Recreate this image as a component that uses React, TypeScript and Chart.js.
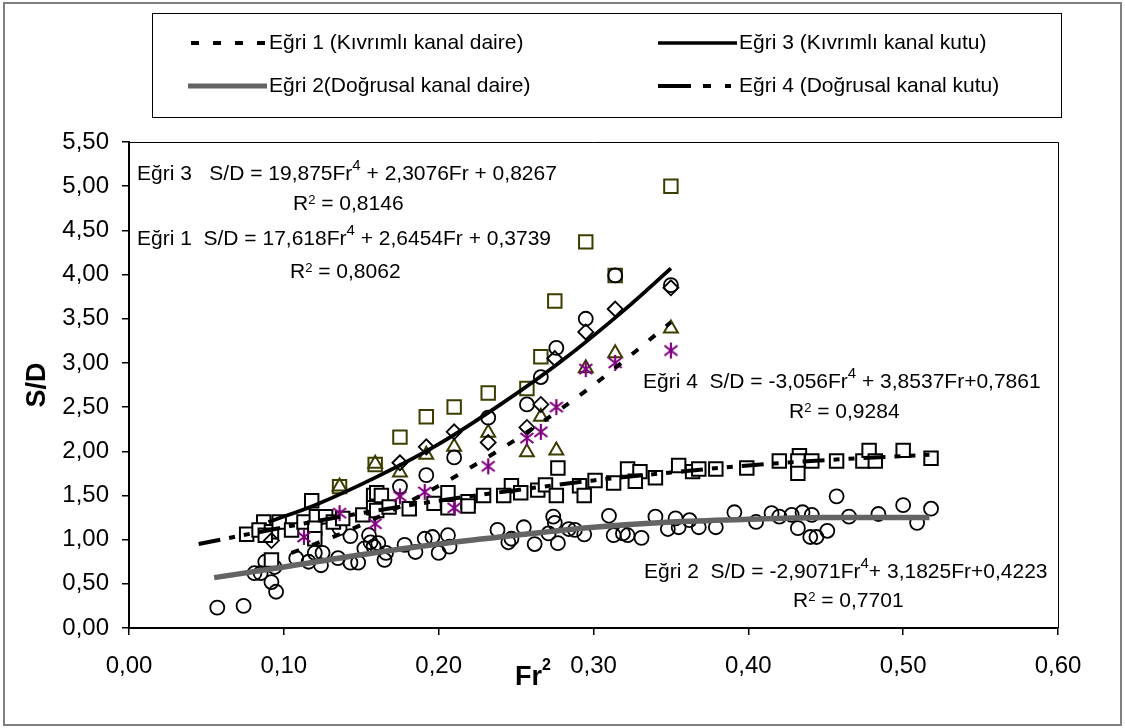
import React, { useEffect, useRef } from 'react';
import { Chart, registerables } from 'chart.js';
Chart.register(...registerables);

type P = [number, number];
const FONT = '"Liberation Sans", Arial, Helvetica, sans-serif';

// ---- tick labels ----
const xTickValues = [0, 0.1, 0.2, 0.3, 0.4, 0.5, 0.6];
const xTickLabels = ['0,00', '0,10', '0,20', '0,30', '0,40', '0,50', '0,60'];
const yTickValues = [0, 0.5, 1, 1.5, 2, 2.5, 3, 3.5, 4, 4.5, 5, 5.5];
const yTickLabels = ['0,00', '0,50', '1,00', '1,50', '2,00', '2,50', '3,00', '3,50', '4,00', '4,50', '5,00', '5,50'];

// ---- legend / series names ----
const curveNames = [
  'Eğri 1 (Kıvrımlı kanal daire)',
  'Eğri 3 (Kıvrımlı kanal kutu)',
  'Eğri 2(Doğrusal kanal daire)',
  'Eğri 4 (Doğrusal kanal kutu)',
];

// ---- measured data (Fr², S/D) ----
const linearCircles: P[] = [
  [0.057, 0.23], [0.074, 0.25], [0.095, 0.41], [0.092, 0.52], [0.081, 0.62], [0.085, 0.62],
  [0.088, 0.75], [0.094, 0.69], [0.108, 0.79], [0.116, 0.75], [0.120, 0.85], [0.125, 0.85],
  [0.124, 0.71], [0.135, 0.79], [0.136, 1.13], [0.143, 1.04], [0.143, 0.74], [0.148, 0.74],
  [0.155, 1.05], [0.152, 0.90], [0.156, 0.97], [0.158, 0.92], [0.161, 0.96], [0.166, 0.85],
  [0.165, 0.77], [0.178, 0.94], [0.185, 0.86], [0.191, 1.01], [0.196, 1.03], [0.200, 0.85],
  [0.206, 1.05], [0.207, 0.92], [0.238, 1.11], [0.245, 0.97], [0.247, 1.01], [0.255, 1.14],
  [0.262, 0.95], [0.274, 1.26], [0.275, 1.19], [0.271, 1.07], [0.277, 0.96], [0.284, 1.12],
  [0.288, 1.11], [0.294, 1.06], [0.310, 1.27], [0.313, 1.05], [0.319, 1.07], [0.322, 1.05],
  [0.331, 1.02], [0.340, 1.26], [0.348, 1.12], [0.353, 1.24], [0.355, 1.14], [0.362, 1.22],
  [0.368, 1.14], [0.379, 1.14], [0.391, 1.31], [0.405, 1.20], [0.415, 1.30], [0.420, 1.26],
  [0.428, 1.28], [0.435, 1.31], [0.432, 1.13], [0.441, 1.28], [0.440, 1.03], [0.444, 1.03],
  [0.451, 1.10], [0.457, 1.49], [0.465, 1.26], [0.484, 1.29], [0.500, 1.39], [0.509, 1.19],
  [0.518, 1.35],
];

const linearSquares: P[] = [
  [0.076, 1.06], [0.087, 1.20], [0.084, 1.11], [0.092, 1.09], [0.088, 1.05], [0.097, 1.20],
  [0.105, 1.11], [0.118, 1.44], [0.113, 1.20], [0.121, 1.26], [0.127, 1.26], [0.120, 1.13],
  [0.120, 1.01], [0.132, 1.20], [0.138, 1.24], [0.151, 1.28], [0.158, 1.50], [0.158, 1.36],
  [0.092, 0.77], [0.160, 1.53], [0.163, 1.50], [0.160, 1.33], [0.168, 1.37], [0.181, 1.35],
  [0.197, 1.41], [0.206, 1.53], [0.206, 1.36], [0.219, 1.43], [0.219, 1.38], [0.229, 1.50],
  [0.247, 1.61], [0.242, 1.50], [0.253, 1.53], [0.264, 1.56], [0.269, 1.62], [0.276, 1.50],
  [0.277, 1.81], [0.291, 1.61], [0.294, 1.50], [0.301, 1.67], [0.313, 1.64], [0.322, 1.80],
  [0.330, 1.77], [0.327, 1.66], [0.340, 1.70], [0.355, 1.84], [0.364, 1.77], [0.368, 1.80],
  [0.379, 1.80], [0.399, 1.81], [0.420, 1.89], [0.433, 1.95], [0.432, 1.89], [0.432, 1.75],
  [0.441, 1.89], [0.457, 1.89], [0.474, 1.89], [0.478, 2.01], [0.482, 1.89], [0.500, 2.01],
  [0.518, 1.92],
];

const curvedOliveSquares: P[] = [
  [0.136, 1.60], [0.159, 1.85], [0.175, 2.16], [0.192, 2.39], [0.210, 2.50], [0.232, 2.66],
  [0.257, 2.71], [0.266, 3.07], [0.275, 3.70], [0.295, 4.37], [0.314, 3.99], [0.350, 5.00],
];
const curvedTriangles: P[] = [
  [0.136, 1.60], [0.159, 1.86], [0.175, 1.76], [0.192, 1.96], [0.210, 2.05], [0.232, 2.21],
  [0.257, 1.99], [0.266, 2.39], [0.276, 2.01], [0.295, 2.94], [0.314, 3.11], [0.350, 3.39],
];
const curvedDiamonds: P[] = [
  [0.092, 0.99], [0.175, 1.87], [0.192, 2.05], [0.210, 2.22], [0.232, 2.10], [0.257, 2.27],
  [0.266, 2.53], [0.275, 3.05], [0.295, 3.35], [0.314, 3.61], [0.350, 3.85],
];
const curvedCircles: P[] = [
  [0.175, 1.60], [0.192, 1.73], [0.210, 1.93], [0.232, 2.38], [0.257, 2.53], [0.266, 2.84],
  [0.276, 3.17], [0.295, 3.50], [0.314, 3.99], [0.350, 3.88],
];
const curvedStars: P[] = [
  [0.113, 1.03], [0.136, 1.30], [0.159, 1.18], [0.175, 1.49], [0.191, 1.54], [0.210, 1.36],
  [0.232, 1.83], [0.257, 2.15], [0.266, 2.22], [0.276, 2.50], [0.295, 2.93], [0.314, 3.00],
  [0.350, 3.14],
];

// ---- trend curves ----
const curve1X = [0.105, 0.14, 0.18, 0.22, 0.26, 0.30, 0.35];
const curve1Y = [0.85, 1.09, 1.42, 1.81, 2.25, 2.75, 3.46];
const curve2X = [0.055, 0.10, 0.15, 0.20, 0.25, 0.30, 0.35, 0.40, 0.45, 0.517];
const curve2Y = [0.57, 0.69, 0.83, 0.95, 1.05, 1.14, 1.20, 1.23, 1.25, 1.25];
const curve3X = [0.09, 0.12, 0.16, 0.20, 0.24, 0.28, 0.32, 0.35];
const curve3Y = [1.20, 1.39, 1.71, 2.08, 2.53, 3.03, 3.60, 4.07];
const curve4X = [0.045, 0.10, 0.15, 0.20, 0.25, 0.30, 0.35, 0.40, 0.45, 0.517];
const curve4Y = [0.95, 1.14, 1.30, 1.44, 1.56, 1.67, 1.76, 1.84, 1.90, 1.96];

const OLIVE = '#3d3d00';
const PURPLE = '#800080';
const GRAY = '#646464';
const DASH1 = [8, 14];
const DASH4 = [22, 9, 6, 9, 6, 9];

const pts = (a: P[]) => a.map(([x, y]) => ({ x, y }));
const pts2 = (xs: number[], ys: number[]) => xs.map((x, i) => ({ x, y: ys[i] }));

type Run = { t: string; sup?: number; raise?: number };

function drawRuns(ctx: CanvasRenderingContext2D, x: number, y: number, runs: Run[], size: number, bold = false) {
  let cx = x;
  ctx.textBaseline = 'alphabetic';
  ctx.textAlign = 'left';
  for (const r of runs) {
    const fs = r.sup ?? size;
    ctx.font = `${bold ? 'bold ' : ''}${fs}px ${FONT}`;
    ctx.fillText(r.t, cx, y - (r.raise ?? 0));
    cx += ctx.measureText(r.t).width;
  }
}

const decorPlugin = {
  id: 'decor',
  beforeDraw(chart: any) {
    const ctx = chart.ctx as CanvasRenderingContext2D;
    ctx.save();
    ctx.fillStyle = '#fff';
    ctx.fillRect(0, 0, chart.width, chart.height);
    ctx.restore();
  },
  afterDraw(chart: any) {
    const ctx = chart.ctx as CanvasRenderingContext2D;
    const a = chart.chartArea;
    ctx.save();
    // outer border
    ctx.strokeStyle = '#808080';
    ctx.lineWidth = 2;
    ctx.strokeRect(4, 3, 1117, 722);
    // plot frame (top & right)
    ctx.strokeStyle = '#000';
    ctx.lineWidth = 1;
    ctx.beginPath();
    ctx.moveTo(a.left, a.top + 0.5);
    ctx.lineTo(a.right + 0.5, a.top + 0.5);
    ctx.lineTo(a.right + 0.5, a.bottom);
    ctx.stroke();

    // legend box
    ctx.strokeStyle = '#000';
    ctx.lineWidth = 1;
    ctx.strokeRect(152.5, 13.5, 909, 104);
    const r1 = 43, r2 = 86;
    ctx.lineCap = 'butt';
    // Eğri 1 sample
    ctx.strokeStyle = '#000';
    ctx.lineWidth = 4;
    ctx.setLineDash(DASH1);
    ctx.beginPath(); ctx.moveTo(191, r1); ctx.lineTo(267, r1); ctx.stroke();
    ctx.setLineDash([]);
    // Eğri 3 sample
    ctx.lineWidth = 3.5;
    ctx.beginPath(); ctx.moveTo(658, r1); ctx.lineTo(737, r1); ctx.stroke();
    // Eğri 2 sample
    ctx.strokeStyle = GRAY;
    ctx.lineWidth = 5;
    ctx.beginPath(); ctx.moveTo(188, r2); ctx.lineTo(267, r2); ctx.stroke();
    // Eğri 4 sample
    ctx.strokeStyle = '#000';
    ctx.lineWidth = 4;
    ctx.beginPath();
    ctx.moveTo(658, r2); ctx.lineTo(691, r2);
    ctx.moveTo(703, r2); ctx.lineTo(711, r2);
    ctx.moveTo(725, r2); ctx.lineTo(731, r2);
    ctx.stroke();

    ctx.fillStyle = '#000';
    ctx.font = `21px ${FONT}`;
    ctx.textBaseline = 'middle';
    ctx.textAlign = 'left';
    ctx.fillText(curveNames[0], 269, r1);
    ctx.fillText(curveNames[1], 739, r1);
    ctx.fillText(curveNames[2], 269, r2);
    ctx.fillText(curveNames[3], 739, r2);

    // equations
    const F = 21;
    const sup4 = { sup: 15, raise: 10 };
    const sup2 = { sup: 13, raise: 6 };
    drawRuns(ctx, 137, 180, [{ t: 'Eğri 3   S/D = 19,875Fr' }, { t: '4', ...sup4 }, { t: ' + 2,3076Fr + 0,8267' }], F);
    drawRuns(ctx, 293, 210, [{ t: 'R' }, { t: '2', ...sup2 }, { t: ' = 0,8146' }], F);
    drawRuns(ctx, 137, 245, [{ t: 'Eğri 1  S/D = 17,618Fr' }, { t: '4', ...sup4 }, { t: ' + 2,6454Fr + 0,3739' }], F);
    drawRuns(ctx, 290, 278, [{ t: 'R' }, { t: '2', ...sup2 }, { t: ' = 0,8062' }], F);
    drawRuns(ctx, 643, 388, [{ t: 'Eğri 4  S/D = -3,056Fr' }, { t: '4', ...sup4 }, { t: ' + 3,8537Fr+0,7861' }], F);
    drawRuns(ctx, 789, 418, [{ t: 'R' }, { t: '2', ...sup2 }, { t: ' = 0,9284' }], F);
    drawRuns(ctx, 644, 578, [{ t: 'Eğri 2  S/D = -2,9071Fr' }, { t: '4', ...sup4 }, { t: '+ 3,1825Fr+0,4223' }], F);
    drawRuns(ctx, 793, 607, [{ t: 'R' }, { t: '2', ...sup2 }, { t: ' = 0,7701' }], F);

    // axis titles
    drawRuns(ctx, 515, 685, [{ t: 'Fr' }, { t: '2', sup: 16, raise: 15 }], 27, true);
    ctx.save();
    ctx.translate(38, 385);
    ctx.rotate(-Math.PI / 2);
    ctx.font = `bold 27px ${FONT}`;
    ctx.textAlign = 'center';
    ctx.textBaseline = 'middle';
    ctx.fillText('S/D', 0, 0);
    ctx.restore();
    ctx.restore();
  },
};

function makeAsterisk(): HTMLCanvasElement {
  const c = document.createElement('canvas');
  c.width = 18; c.height = 18;
  const g = c.getContext('2d')!;
  g.strokeStyle = PURPLE;
  g.lineWidth = 2.2;
  g.beginPath();
  g.moveTo(9, 1); g.lineTo(9, 17);
  g.moveTo(2.5, 4); g.lineTo(15.5, 14);
  g.moveTo(15.5, 4); g.lineTo(2.5, 14);
  g.stroke();
  return c;
}

export default function App() {
  const ref = useRef<HTMLCanvasElement>(null);
  useEffect(() => {
    if (!ref.current) return;
    const star = makeAsterisk();
    const marker = (color: string, style: any, radius: number, order: number, bg = 'rgba(0,0,0,0)', bw = 1.8) => ({
      pointStyle: style,
      pointRadius: radius,
      pointHoverRadius: radius,
      borderColor: color,
      pointBorderColor: color,
      backgroundColor: bg,
      pointBackgroundColor: bg,
      pointBorderWidth: bw,
      borderWidth: bw,
      showLine: false,
      order,
    });
    const curve = (xs: number[], ys: number[], color: string, width: number, dash: number[], order: number) => ({
      data: pts2(xs, ys),
      showLine: true,
      borderColor: color,
      borderWidth: width,
      borderDash: dash,
      pointRadius: 0,
      pointHoverRadius: 0,
      tension: 0.4,
      cubicInterpolationMode: 'monotone',
      fill: false,
      order,
    });
    const chart = new Chart(ref.current, {
      type: 'scatter',
      data: {
        datasets: [
          curve(curve3X, curve3Y, '#000', 3.8, [], 0) as any,
          curve(curve1X, curve1Y, '#000', 4, DASH1, 0) as any,
          curve(curve4X, curve4Y, '#000', 4, DASH4, 0) as any,
          curve(curve2X, curve2Y, GRAY, 5.5, [], 0) as any,
          { data: pts(curvedStars), ...marker(PURPLE, star, 8, 1) },
          { data: pts(curvedCircles), ...marker('#000', 'circle', 7, 2) },
          { data: pts(curvedDiamonds), ...marker('#000', 'rectRot', 7.5, 3) },
          { data: pts(curvedTriangles), ...marker(OLIVE, 'triangle', 8, 4, 'rgba(0,0,0,0)', 2) },
          { data: pts(curvedOliveSquares), ...marker(OLIVE, 'rect', 9.5, 5, 'rgba(0,0,0,0)', 2) },
          { data: pts(linearSquares), ...marker('#000', 'rect', 9.5, 6, '#fff', 2) },
          { data: pts(linearCircles), ...marker('#000', 'circle', 7, 7) },
        ] as any,
      },
      options: {
        animation: false,
        responsive: false,
        maintainAspectRatio: false,
        devicePixelRatio: 1,
        layout: { padding: { top: 142, right: 67, left: 0, bottom: 0 } },
        plugins: { legend: { display: false }, tooltip: { enabled: false }, title: { display: false } },
        scales: {
          x: {
            type: 'linear',
            position: 'bottom',
            min: 0,
            max: 0.6,
            afterBuildTicks: (s: any) => { s.ticks = xTickValues.map((v) => ({ value: v })); },
            afterFit: (s: any) => { s.height = 100; },
            ticks: {
              callback: (_v: any, i: number) => xTickLabels[i],
              font: { family: FONT, size: 24 },
              color: '#000',
              padding: 17,
              maxRotation: 0,
              autoSkip: false,
            },
            grid: { drawOnChartArea: false, drawTicks: true, tickLength: 7, color: '#000', lineWidth: 1.5 },
            border: { display: true, color: '#000', width: 2 },
          },
          y: {
            type: 'linear',
            position: 'left',
            min: 0,
            max: 5.5,
            afterBuildTicks: (s: any) => { s.ticks = yTickValues.map((v) => ({ value: v })); },
            afterFit: (s: any) => { s.width = 129; },
            ticks: {
              callback: (_v: any, i: number) => yTickLabels[i],
              font: { family: FONT, size: 24 },
              color: '#000',
              padding: 13,
              autoSkip: false,
            },
            grid: { drawOnChartArea: false, drawTicks: true, tickLength: 7, color: '#000', lineWidth: 1.5 },
            border: { display: true, color: '#000', width: 2 },
          },
        },
      } as any,
      plugins: [decorPlugin],
    });
    return () => chart.destroy();
  }, []);
  return (
    <div style={{ position: 'absolute', left: 0, top: 0, width: 1125, height: 728 }}>
      <canvas ref={ref} width={1125} height={728} style={{ width: 1125, height: 728, display: 'block' }} />
    </div>
  );
}
